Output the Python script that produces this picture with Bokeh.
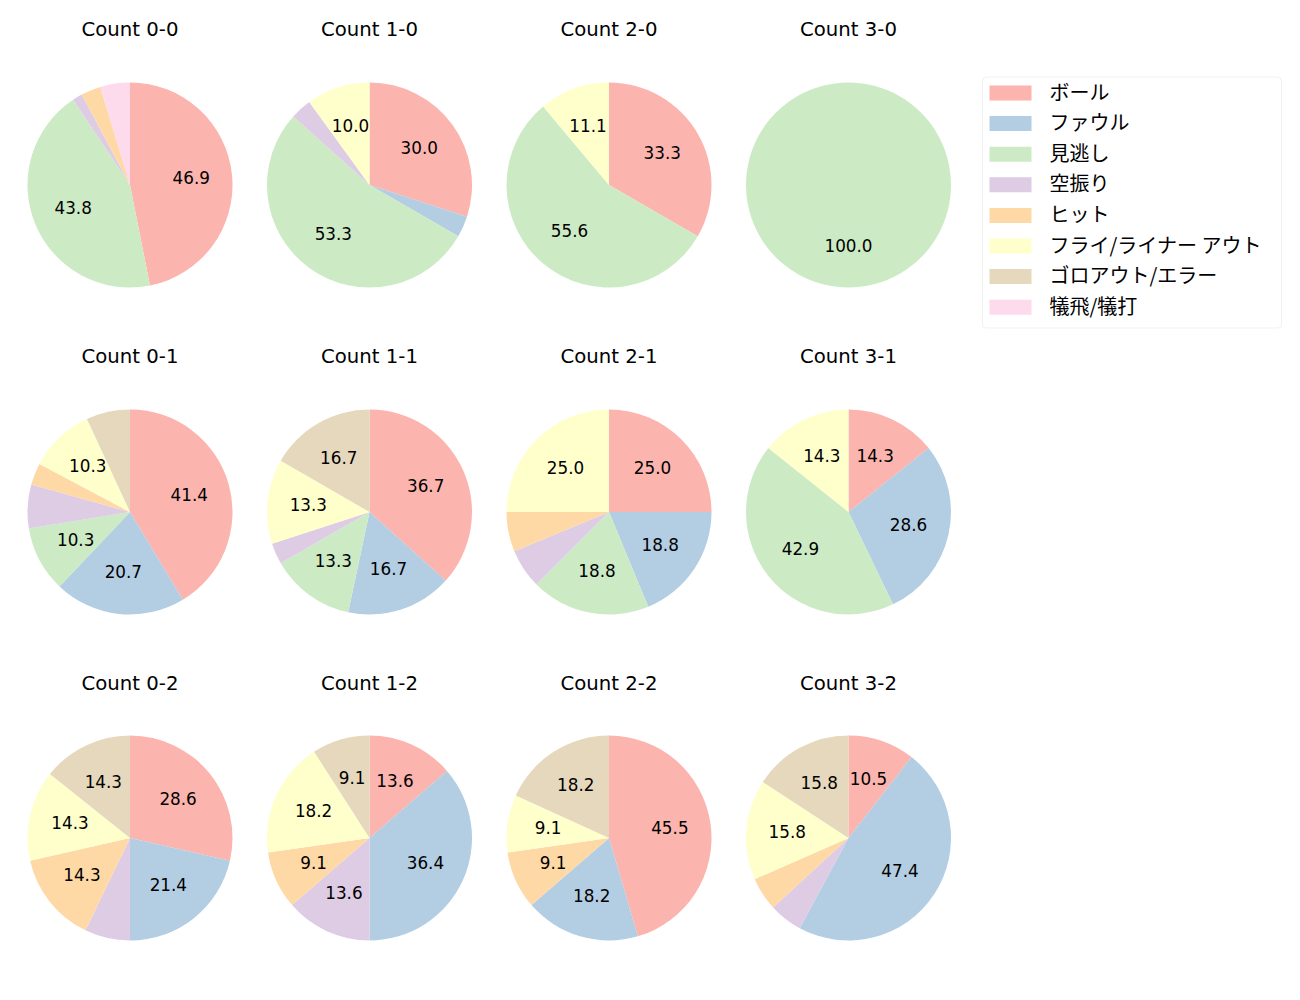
import numpy as np
from bokeh.plotting import figure
from bokeh.models import Range1d, BoxAnnotation, ColumnDataSource
from bokeh.core.properties import value
from bokeh.embed import file_html
from bokeh.resources import INLINE

# ---- data ----
counts = ["0-0", "1-0", "2-0", "3-0",
          "0-1", "1-1", "2-1", "3-1",
          "0-2", "1-2", "2-2", "3-2"]
categories = ["ボール", "ファウル", "見逃し", "空振り", "ヒット",
              "フライ/ライナー アウト", "ゴロアウト/エラー", "犠飛/犠打"]
ball     = [30, 9, 3, 0, 12, 11, 4, 1, 4, 3, 5, 2]
foul     = [0, 1, 0, 0, 6, 5, 3, 2, 3, 8, 2, 9]
called   = [28, 16, 5, 1, 3, 4, 3, 3, 0, 0, 0, 0]
swinging = [1, 1, 0, 0, 2, 1, 1, 0, 1, 3, 0, 1]
hit      = [2, 0, 0, 0, 1, 0, 1, 0, 2, 2, 1, 1]
flyout   = [0, 3, 1, 0, 3, 4, 4, 1, 2, 4, 1, 3]
groundout = [0, 0, 0, 0, 2, 5, 0, 0, 2, 2, 2, 3]
sacrifice = [3, 0, 0, 0, 0, 0, 0, 0, 0, 0, 0, 0]
colors = ["#fbb4ae", "#b3cde3", "#ccebc5", "#decbe4",
          "#fed9a6", "#ffffcc", "#e5d8bd", "#fddaec"]

series = [ball, foul, called, swinging, hit, flyout, groundout, sacrifice]

# ---- layout (page pixels) ----
W, H = 1284, 984
def fy(py):
    return 1000 - py

col_x = [129.5, 369.0, 608.5, 848.0]
row_y = [184.5, 511.5, 837.5]
R = 102.5
LABEL_FONT = "16.8px"
TITLE_FONT = "19.7px"
LATIN = "DejaVu Sans"
CJK = "Noto Sans CJK JP"

p = figure(width=W, height=H, x_range=Range1d(0, W), y_range=Range1d(1000 - H, 1000),
           output_backend="svg", toolbar_location=None, min_border=0,
           x_axis_type=None, y_axis_type=None)
p.grid.visible = False
p.outline_line_color = None
p.background_fill_color = "white"
p.border_fill_color = "white"

wx, wy, ws, we, wc = [], [], [], [], []
lx, ly, lt = [], [], []
tx, ty, tt = [], [], []
for k, cname in enumerate(counts):
    r, c = divmod(k, 4)
    cx, cyp = col_x[c], row_y[r]
    cy = fy(cyp)
    vals = [s[k] for s in series]
    total = float(sum(vals))
    cum = 0.0
    for i, v in enumerate(vals):
        if v <= 0:
            continue
        frac0 = cum / total
        frac1 = (cum + v) / total
        cum += v
        end = np.deg2rad(90 - frac0 * 360)
        if frac1 - frac0 >= 0.9999:
            start = end + 1e-4
        else:
            start = np.deg2rad(90 - frac1 * 360)
        wx.append(cx); wy.append(cy); ws.append(start); we.append(end); wc.append(colors[i])
        pct = 100.0 * v / total
        if pct >= 8:
            mid = np.deg2rad(90 - (frac0 + frac1) * 180)
            ax = cx + 0.6 * R * np.cos(mid)
            ayp = cyp - 0.6 * R * np.sin(mid)
            lx.append(ax); ly.append(fy(ayp - 1.5)); lt.append("%1.1f" % pct)
    tx.append(cx); ty.append(fy(29 + r * 327)); tt.append("Count " + cname)

p.wedge(x="x", y="y", radius=R, start_angle="s", end_angle="e", fill_color="c",
        line_color=None, source=ColumnDataSource(dict(x=wx, y=wy, s=ws, e=we, c=wc)))
p.text(x="x", y="y", text="t", source=ColumnDataSource(dict(x=lx, y=ly, t=lt)),
       text_align="center", text_baseline="alphabetic", text_font=value(LATIN),
       text_font_size=LABEL_FONT, text_color="black")
p.text(x="x", y="y", text="t", source=ColumnDataSource(dict(x=tx, y=ty, t=tt)),
       text_align="center", text_baseline="alphabetic", text_font=value(LATIN),
       text_font_size=TITLE_FONT, text_color="black")

# ---- legend ----
box = BoxAnnotation(left=982, right=1281, top=fy(76.5), bottom=fy(327.5),
                    fill_color="white", fill_alpha=1.0, line_color="#cccccc",
                    line_width=1, border_radius=4, level="underlay")
p.add_layout(box)
leg_y = [fy(92.5 + i * 30.6) for i in range(len(categories))]
leg_ty = [fy(90.5 + i * 30.6) for i in range(len(categories))]
p.rect(x=[1010] * len(categories), y=leg_y, width=42, height=15,
       fill_color=colors, line_color=None)
p.text(x=[1049] * len(categories), y=leg_ty, text=categories,
       text_align="left", text_baseline="middle", text_font=value(CJK),
       text_font_size="20px", text_color="black")

open("out.html", "w").write(file_html(p, INLINE))
